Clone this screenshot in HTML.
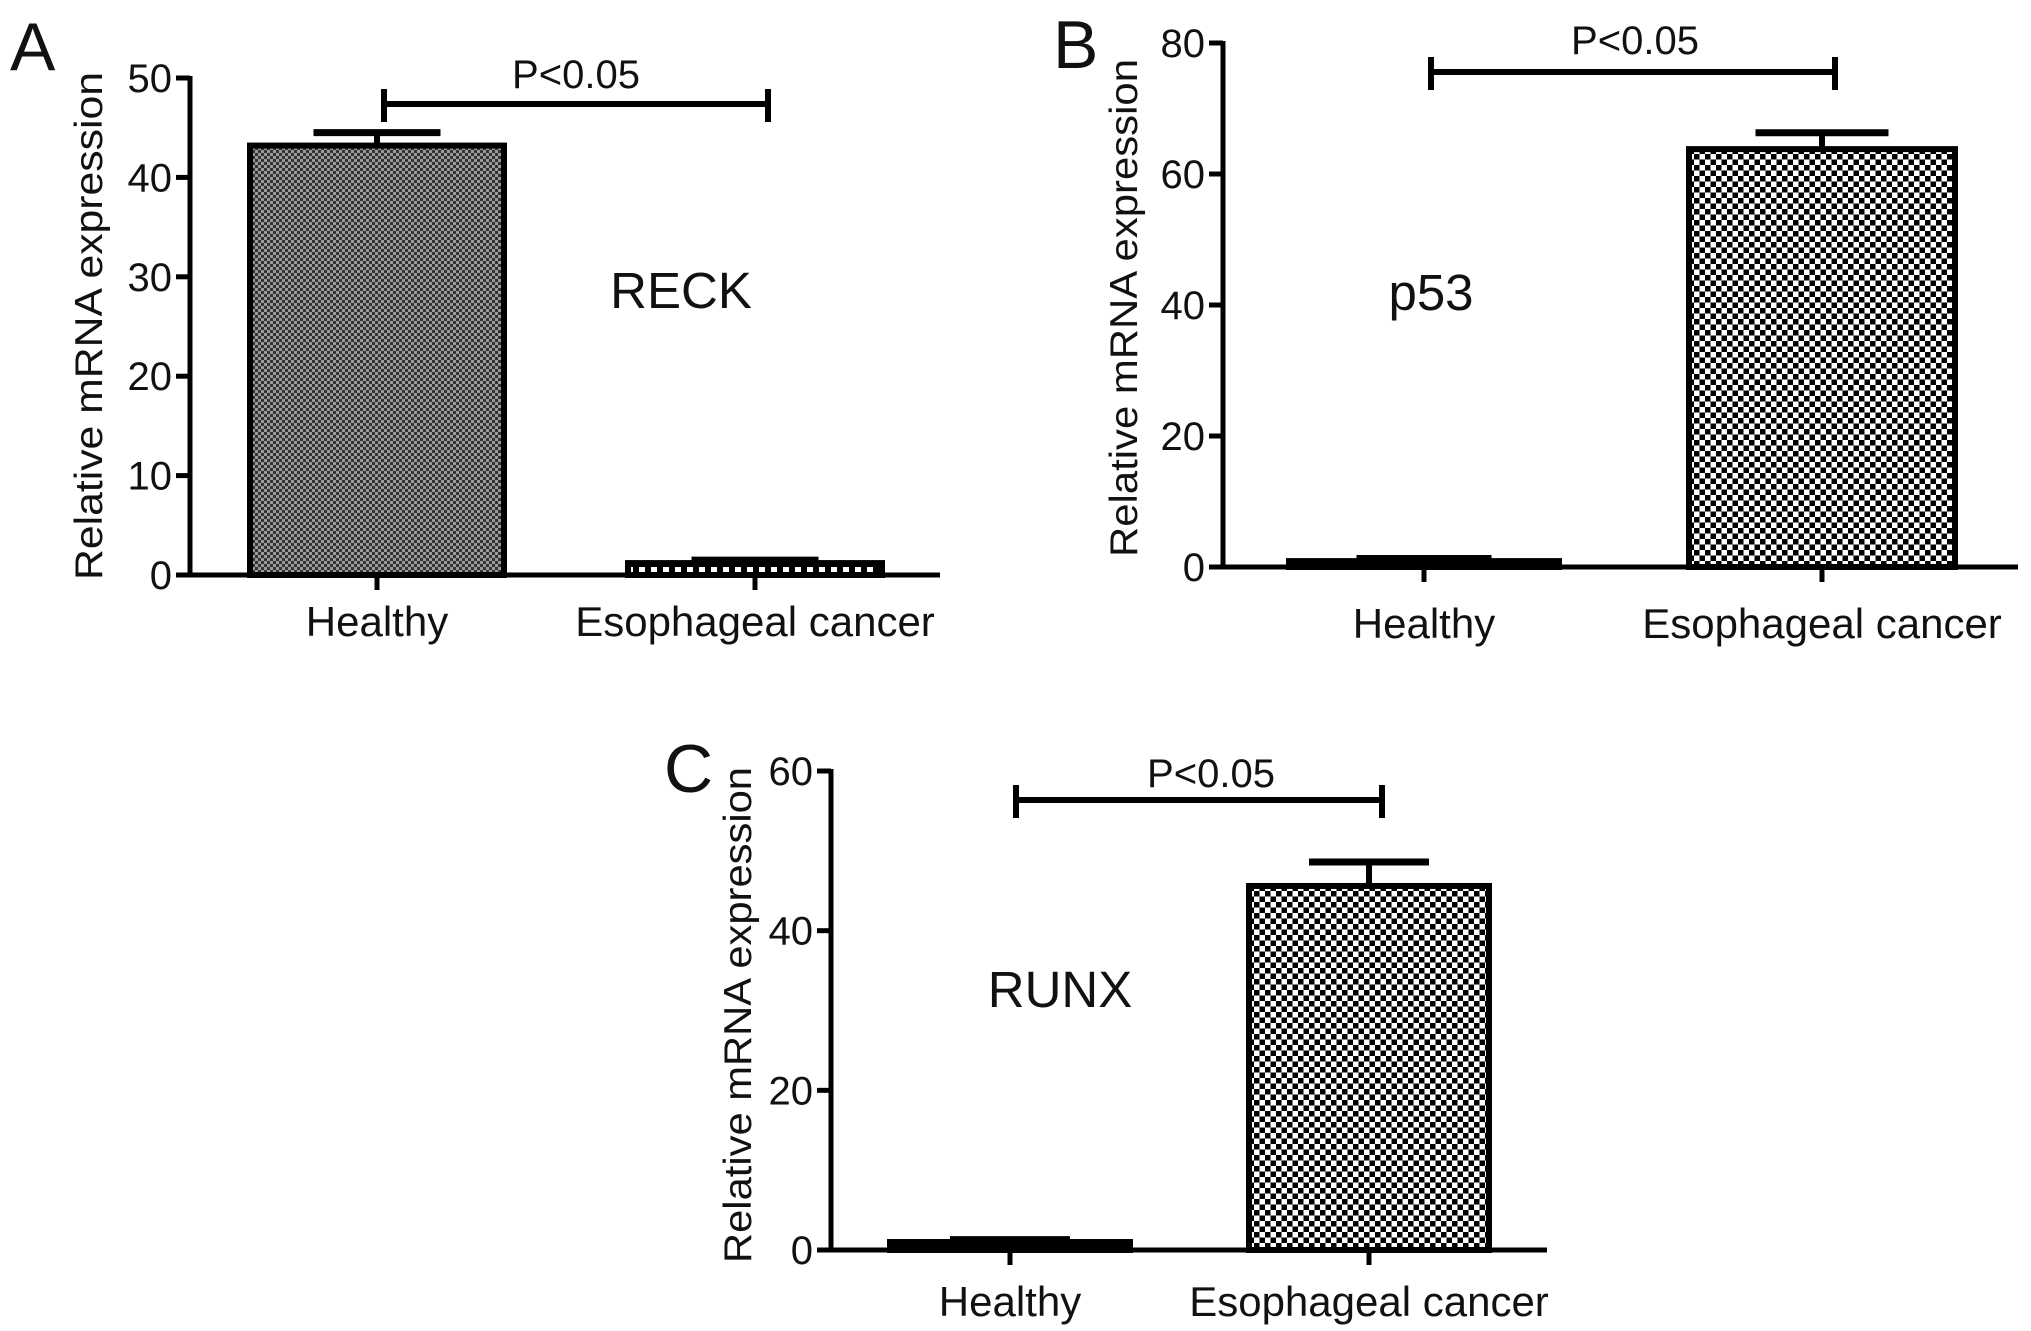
<!DOCTYPE html>
<html><head><meta charset="utf-8"><style>
html,body{margin:0;padding:0;background:#fff;}
svg{display:block;}
text{font-family:"Liberation Sans",Arial,sans-serif;fill:#111;}
</style></head><body>
<svg id="chart" width="2031" height="1331" viewBox="0 0 2031 1331" xmlns="http://www.w3.org/2000/svg">
<defs>
<pattern id="fine" width="6" height="6" patternUnits="userSpaceOnUse">
<rect width="6" height="6" fill="#9a9a9a"/>
<rect width="3" height="3" fill="#333"/><rect x="3" y="3" width="3" height="3" fill="#333"/>
</pattern>
<pattern id="coarse" width="11" height="11" patternUnits="userSpaceOnUse">
<rect width="11" height="11" fill="#fff"/>
<rect width="5.5" height="5.5" fill="#000"/><rect x="5.5" y="5.5" width="5.5" height="5.5" fill="#000"/>
</pattern>
<pattern id="dash" width="12" height="12" patternUnits="userSpaceOnUse">
<rect width="12" height="12" fill="#000"/><rect x="3" y="3" width="6" height="6" fill="#fff"/>
</pattern>
</defs>
</svg>
<script>
const categories = ["Healthy", "Esophageal cancer"];
const valuesA = [43.2, 1.2];
const errorsA = [1.3, 0.3];
const ticksA = [0, 10, 20, 30, 40, 50];
const valuesB = [0.9, 63.8];
const errorsB = [0.4, 2.5];
const ticksB = [0, 20, 40, 60, 80];
const valuesC = [1.0, 45.6];
const errorsC = [0.3, 3.0];
const ticksC = [0, 20, 40, 60];

const svg = document.getElementById('chart');
const NS = 'http://www.w3.org/2000/svg';
function mk(tag, attrs, parent){
  const e = document.createElementNS(NS, tag);
  for (const k in attrs) e.setAttribute(k, attrs[k]);
  (parent||svg).appendChild(e);
  return e;
}
function txt(s, attrs, parent){ const t = mk('text', attrs, parent); t.textContent = s; return t; }

const panels = [
  {id:'a', letter:'A', gene:'RECK', vals:valuesA, errs:errorsA, ticks:ticksA, max:50,
   ax:190, y0:575, ytop:78, xend:940, centers:[377,755], bw:[254,254], fills:['url(#fine)','url(#dash)'],
   sig:{x1:384,x2:768,y:104}, p:{x:576,y:88}, geneLbl:{x:681,y:308}, title:{x:88,y1:72,y2:580},
   lblY:636, letterPos:{x:10,y:70}},
  {id:'b', letter:'B', gene:'p53', vals:valuesB, errs:errorsB, ticks:ticksB, max:80,
   ax:1223, y0:567, ytop:43, xend:2018, centers:[1424,1822], bw:[270,266], fills:['#000','url(#coarse)'],
   sig:{x1:1431,x2:1835,y:72}, p:{x:1635,y:54}, geneLbl:{x:1431,y:310}, title:{x:1123,y1:59,y2:557},
   lblY:638, letterPos:{x:1053,y:68}},
  {id:'c', letter:'C', gene:'RUNX', vals:valuesC, errs:errorsC, ticks:ticksC, max:60,
   ax:831, y0:1250, ytop:771, xend:1547, centers:[1010,1369], bw:[240,240], fills:['url(#dash)','url(#coarse)'],
   sig:{x1:1016,x2:1382,y:800}, p:{x:1211,y:787}, geneLbl:{x:1060,y:1007}, title:{x:737,y1:767,y2:1263},
   lblY:1316, letterPos:{x:664,y:792}}
];

panels.forEach(P => {
  const g = mk('g', {});
  
  
  const y = v => P.y0 - (v / P.max) * (P.y0 - P.ytop);
  P.vals.forEach((v, i) => {
    const cx = P.centers[i], w = P.bw[i];
    const top = y(v);
    const r = mk('rect', {x: cx - w/2, y: top, width: w, height: Math.max(P.y0 - top, 2), fill: P.fills[i], stroke: '#000', 'stroke-width': 6}, g);
    
    
    const ey = y(v + P.errs[i]);
    const eg = mk('g', {stroke: '#000', 'stroke-width': 6}, g);
    
    
    mk('line', {x1: cx, x2: cx, y1: top, y2: ey}, eg);
    mk('line', {x1: cx - w*0.25, x2: cx + w*0.25, y1: ey, y2: ey, 'stroke-width': 7}, eg);
  });
  const axg = mk('g', {stroke: '#000', 'stroke-width': 5}, g);
  
  
  mk('line', {x1: P.ax, x2: P.ax, y1: P.ytop - 2, y2: P.y0 + 2}, axg);
  mk('line', {x1: P.ax - 14, x2: P.xend, y1: P.y0, y2: P.y0}, axg);
  P.centers.forEach(cx => mk('line', {x1: cx, x2: cx, y1: P.y0, y2: P.y0 + 15}, axg));
  P.ticks.forEach(t => {
    mk('line', {x1: P.ax - 14, x2: P.ax, y1: y(t), y2: y(t)}, axg);
    const tl = txt(String(t), {x: P.ax - 18, y: y(t) + 14, 'font-size': 40, 'text-anchor': 'end'}, g);
    
    
  });
  categories.forEach((c, i) => {
    const t = txt(c, {x: P.centers[i], y: P.lblY, 'font-size': 42, 'text-anchor': 'middle'}, g);
    
    
  });
  const tt = txt('Relative mRNA expression', {x: 0, y: 0, 'font-size': 39, 'text-anchor': 'middle',
    transform: 'translate(' + (P.title.x + 14) + ',' + ((P.title.y1 + P.title.y2)/2) + ') rotate(-90)',
    textLength: (P.title.y2 - P.title.y1), lengthAdjust: 'spacingAndGlyphs'}, g);
  
  
  const sg = mk('g', {stroke: '#000', 'stroke-width': 6}, g);
  
  
  mk('line', {x1: P.sig.x1, x2: P.sig.x2, y1: P.sig.y, y2: P.sig.y}, sg);
  mk('line', {x1: P.sig.x1, x2: P.sig.x1, y1: P.sig.y - 15, y2: P.sig.y + 18}, sg);
  mk('line', {x1: P.sig.x2, x2: P.sig.x2, y1: P.sig.y - 15, y2: P.sig.y + 18}, sg);
  const pt = txt('P<0.05', {x: P.p.x, y: P.p.y, 'font-size': 40, 'text-anchor': 'middle'}, g);
  
  
  const gl = txt(P.gene, {x: P.geneLbl.x, y: P.geneLbl.y, 'font-size': 51, 'text-anchor': 'middle'}, g);
  
  
  const lt = txt(P.letter, {x: P.letterPos.x, y: P.letterPos.y, 'font-size': 68}, g);
  
  
});
</script>
</body></html>
